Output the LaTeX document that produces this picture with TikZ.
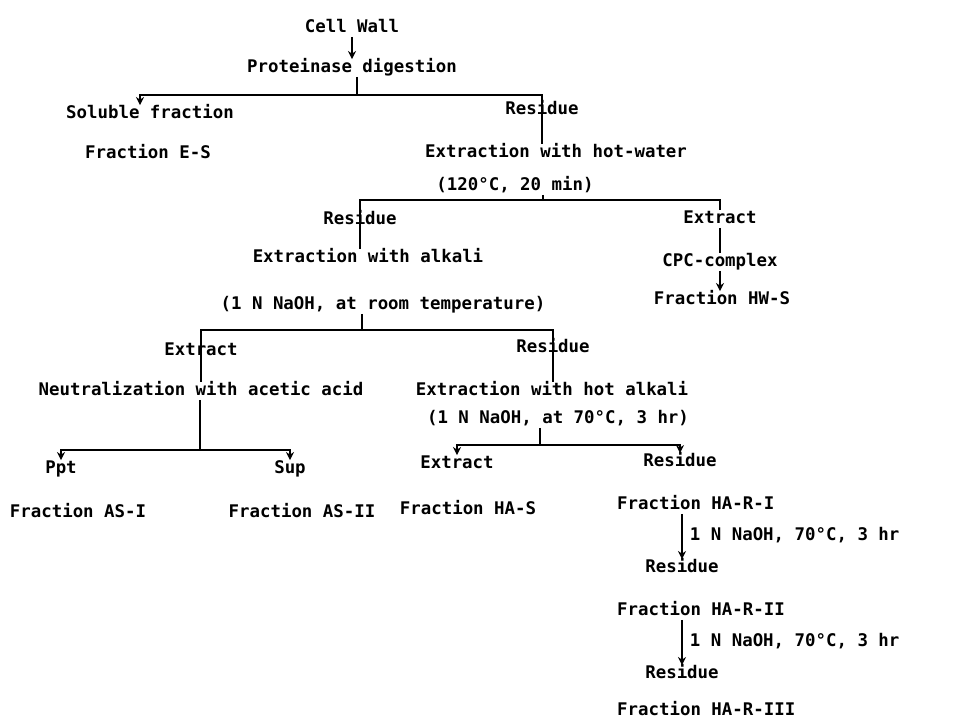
\documentclass[tikz,border=0pt]{standalone}
\usepackage{fontspec}
\setmonofont{DejaVu Sans Mono}
\usetikzlibrary{arrows.meta}

\begin{document}
\begin{tikzpicture}[x=1pt,y=1pt,
		every node/.style={font=\ttfamily\bfseries\fontsize{17.4}{20}\selectfont, inner sep=1pt, text height=12pt, text depth=3.5pt},
		link/.style={line width=1.8pt},
		arr/.style={link, -{Stealth[length=8pt,width=8pt]}}
	]
	\useasboundingbox (0,0) rectangle (954,-725);

	\node (cw) at (352,-28) {Cell Wall};
	\node (pd) at (352,-68) {Proteinase digestion};
	\node (sol) at (150,-114) {Soluble fraction};
	\node (fes) at (148,-154) {Fraction E-S};
	\node (r1) at (542,-110) {Residue};
	\node (ehw) at (556,-153) {Extraction with hot-water};
	\node (ehwc) at (515,-186) {(120°C, 20 min)};
	\node (r2) at (360,-220) {Residue};
	\node (eal) at (368,-258) {Extraction with alkali};
	\node (ealc) at (383,-305) {(1 N NaOH, at room temperature)};
	\node (ex1) at (720,-219) {Extract};
	\node (cpc) at (720,-262) {CPC-complex};
	\node (hws) at (722,-300) {Fraction HW-S};
	\node (ex2) at (201,-351) {Extract};
	\node (neu) at (201,-391) {Neutralization with acetic acid};
	\node (ppt) at (61,-469) {Ppt};
	\node (sup) at (290,-469) {Sup};
	\node (fas1) at (78,-513) {Fraction AS-I};
	\node (fas2) at (302,-513) {Fraction AS-II};
	\node (r3) at (553,-348) {Residue};
	\node (eha) at (552,-391) {Extraction with hot alkali};
	\node (ehac) at (558,-419) {(1 N NaOH, at 70°C, 3 hr)};
	\node (ex3) at (457,-464) {Extract};
	\node (r4) at (680,-462) {Residue};
	\node (fhas) at (468,-510) {Fraction HA-S};
	\node[anchor=west] (fhr1) at (616,-505) {Fraction HA-R-I};
	\node (r5) at (682,-568) {Residue};
	\node[anchor=west] (fhr2) at (616,-611) {Fraction HA-R-II};
	\node (r6) at (682,-674) {Residue};
	\node[anchor=west] (fhr3) at (616,-711) {Fraction HA-R-III};

	\coordinate (b1) at (357,-95);
	\coordinate (b2) at (543,-200);
	\coordinate (b3) at (362,-330);
	\coordinate (b4) at (200,-450);
	\coordinate (b5) at (540,-445);

	\draw[arr] (cw.south) -- (pd.north);
	\draw[link] (b1 |- pd.south) -- (b1);
	\draw[arr] (b1) -| ([xshift=-10pt]sol.north);
	\draw[link] (b1) -| (r1.north) -- (r1.north |- ehw.north);

	\draw[link] (b2 |- ehwc.south) -- (b2);
	\draw[link] (b2) -| (r2.north) -- (r2.north |- eal.north);
	\draw[link] (b2) -| (ex1.north);
	\draw[link] (ex1.south) -- (cpc.north);
	\draw[arr] (cpc.south) -- (cpc.south |- hws.north);

	\draw[link] (b3 |- ealc.south) -- (b3);
	\draw[link] (b3) -| (ex2.north) -- (ex2.north |- neu.north);
	\draw[link] (b3) -| (r3.north) -- (r3.north |- eha.north);

	\draw[link] (neu.south -| b4) -- (b4);
	\draw[arr] (b4) -| (ppt.north);
	\draw[arr] (b4) -| (sup.north);

	\draw[link] (b5 |- ehac.south) -- (b5);
	\draw[arr] (b5) -| (ex3.north);
	\draw[arr] (b5) -| (r4.north);

	\draw[arr] (r5.north |- fhr1.south) -- (r5.north) node[midway, right=6pt] (c1) {1 N NaOH, 70°C, 3 hr};
	\draw[arr] (r6.north |- fhr2.south) -- (r6.north) node[midway, right=6pt] (c2) {1 N NaOH, 70°C, 3 hr};
\end{tikzpicture}
\end{document}
